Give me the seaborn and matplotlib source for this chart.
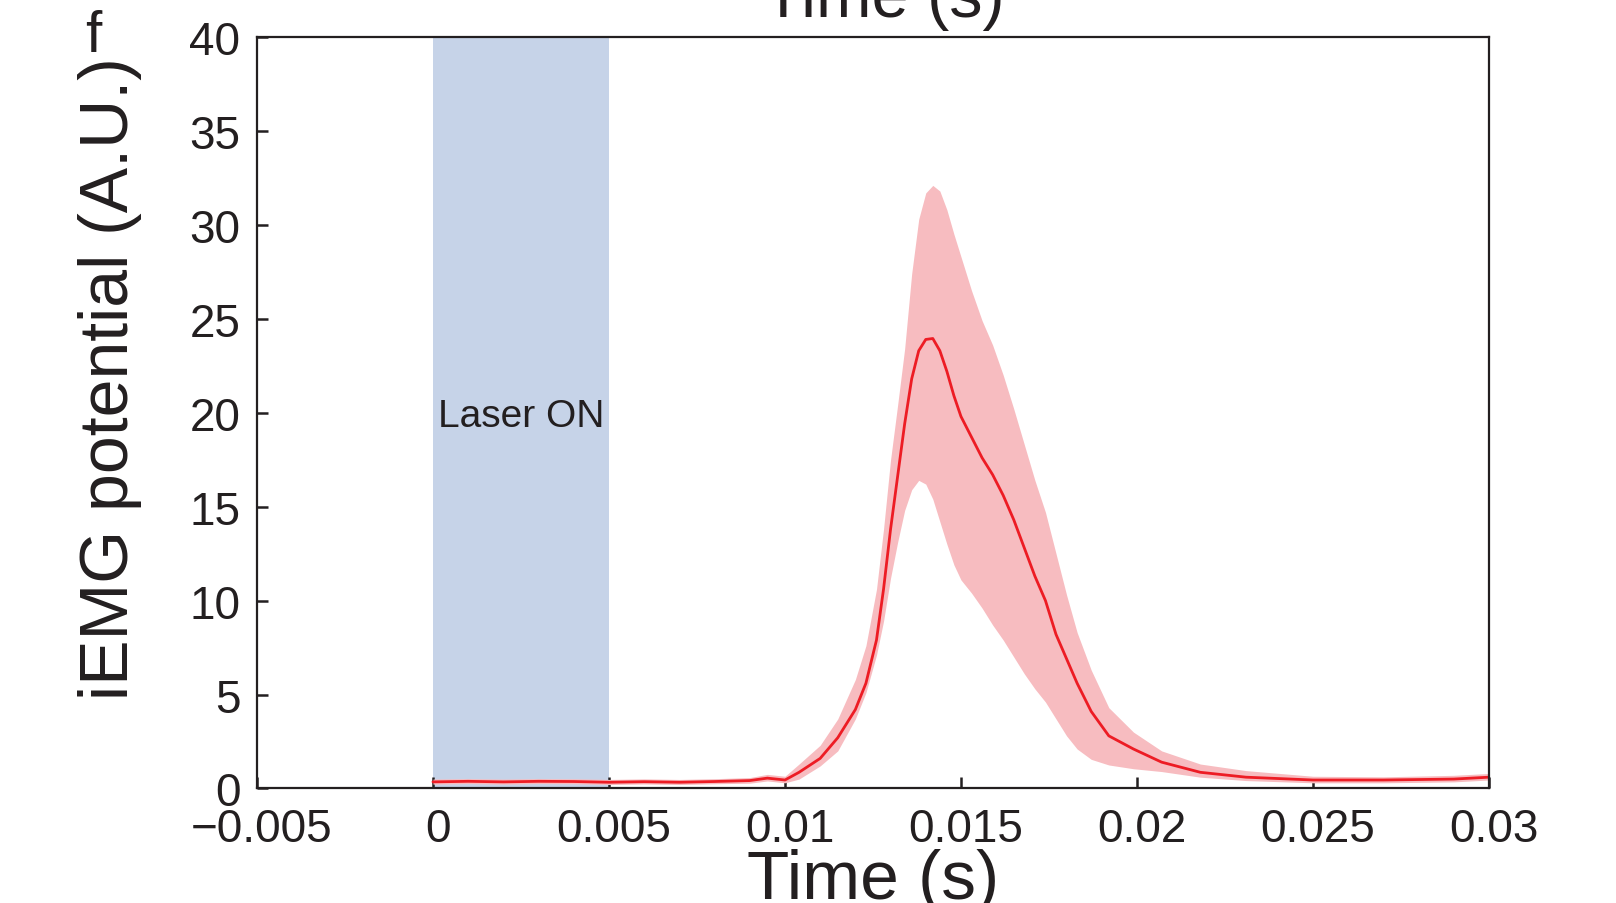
import numpy as np
import pandas as pd
import matplotlib
matplotlib.use("Agg")
import matplotlib.pyplot as plt
import matplotlib.transforms as mtransforms
import seaborn as sns

# Time axis (s) and iEMG statistics (A.U.): mean trace with lower/upper spread
time_s = [0.0, 0.001, 0.002, 0.003, 0.004, 0.005, 0.006, 0.007, 0.008, 0.009,
          0.0095, 0.01, 0.0104, 0.011, 0.0115, 0.012, 0.0123, 0.0126, 0.0128,
          0.013, 0.0132, 0.0134, 0.0136, 0.0138, 0.014, 0.0142, 0.0144, 0.0146,
          0.0148, 0.015, 0.0153, 0.0156, 0.0159, 0.0162, 0.0165, 0.0168, 0.0171,
          0.0174, 0.0177, 0.018, 0.0183, 0.0187, 0.0192, 0.0199, 0.0207, 0.0218,
          0.0231, 0.025, 0.027, 0.029, 0.03]
iemg_mean = [0.35, 0.38, 0.35, 0.38, 0.37, 0.33, 0.36, 0.33, 0.37, 0.42,
             0.55, 0.45, 0.86, 1.6, 2.7, 4.2, 5.6, 7.9, 10.6,
             13.8, 16.6, 19.4, 21.8, 23.3, 23.9, 23.95, 23.3, 22.2,
             20.9, 19.8, 18.7, 17.6, 16.7, 15.6, 14.3, 12.8, 11.3,
             10.0, 8.2, 6.9, 5.6, 4.1, 2.8, 2.1, 1.4, 0.86,
             0.6, 0.45, 0.45, 0.5, 0.6]
iemg_upper = [0.5, 0.53, 0.5, 0.53, 0.52, 0.48, 0.51, 0.48, 0.52, 0.58,
              0.75, 0.65, 1.3, 2.3, 3.7, 5.8, 7.6, 10.6, 13.8,
              17.5, 20.4, 23.4, 27.4, 30.3, 31.7, 32.1, 31.8, 30.8,
              29.5, 28.3, 26.5, 24.9, 23.6, 22.0, 20.2, 18.3, 16.4,
              14.7, 12.5, 10.3, 8.3, 6.3, 4.3, 3.0, 2.0, 1.3,
              0.95, 0.65, 0.62, 0.7, 0.8]
iemg_lower = [0.23, 0.26, 0.23, 0.26, 0.25, 0.21, 0.24, 0.21, 0.25, 0.28,
              0.4, 0.3, 0.5, 1.2, 2.0, 3.7, 5.1, 7.1, 8.9,
              11.2, 13.1, 14.8, 15.9, 16.4, 16.2, 15.4, 14.2, 13.0,
              11.9, 11.1, 10.4, 9.6, 8.7, 7.9, 7.0, 6.1, 5.3,
              4.6, 3.7, 2.8, 2.1, 1.55, 1.25, 1.05, 0.9, 0.6,
              0.42, 0.3, 0.3, 0.35, 0.45]

laser_window = [0.0, 0.005]
x_ticks = [-0.005, 0, 0.005, 0.01, 0.015, 0.02, 0.025, 0.03]
x_tick_labels = ["\u22120.005", "0", "0.005", "0.01", "0.015", "0.02", "0.025", "0.03"]
y_ticks = [0, 5, 10, 15, 20, 25, 30, 35, 40]

df = pd.DataFrame({"time": time_s, "mean": iemg_mean,
                   "lower": iemg_lower, "upper": iemg_upper})

sns.set_style("ticks")
plt.rcParams["font.family"] = ["Liberation Sans", "DejaVu Sans"]
ink = "#231f20"

fig = plt.figure(figsize=(16.16, 9.04), dpi=100)
ax = fig.add_axes([0.159, 0.1267, 0.7624, 0.8313])

# Laser stimulation window
ax.axvspan(laser_window[0], laser_window[1], color="#c6d3e8", lw=0, zorder=0)
ax.text(sum(laser_window) / 2, 19.8, "Laser ON", ha="center", va="center",
        fontsize=28, color=ink)

# Shaded spread and mean trace
ax.fill_between(df["time"], df["lower"], df["upper"], color="#f7bcc0", lw=0, zorder=1)
sns.lineplot(data=df, x="time", y="mean", ax=ax, color="#ed1c24", lw=2.0, zorder=2)

ax.set_xlim(-0.005, 0.03)
ax.set_ylim(0, 40)
ax.set_xticks(x_ticks)
ax.set_xticklabels(x_tick_labels)
ax.set_yticks(y_ticks)
ax.tick_params(axis="both", direction="in", length=8, width=1.8, labelsize=33,
               colors=ink, top=False, right=False)
ax.tick_params(axis="x", pad=13)
ax.tick_params(axis="y", pad=12)
# nudge x tick labels slightly to the right
shift = mtransforms.ScaledTranslation(5 / 100, 0, fig.dpi_scale_trans)
for lbl in ax.get_xticklabels():
    lbl.set_transform(lbl.get_transform() + shift)
for sp in ax.spines.values():
    sp.set_visible(True)
    sp.set_linewidth(1.6)
    sp.set_color(ink)

ax.set_xlabel("Time (s)", fontsize=50, color=ink, labelpad=-2)
ax.set_ylabel("")
fig.text(0.0795, 0.5808, "iEMG potential (A.U.)", rotation=90, rotation_mode="anchor",
         ha="center", va="baseline", fontsize=49, color=ink)
ax.text(0.509, 1.028, "Time (s)", transform=ax.transAxes, ha="center",
        va="baseline", fontsize=48, color=ink)
fig.text(0.0576, 0.9425, "f", fontsize=42, color=ink, ha="center", va="baseline")

fig.savefig("out.png", dpi=100)
